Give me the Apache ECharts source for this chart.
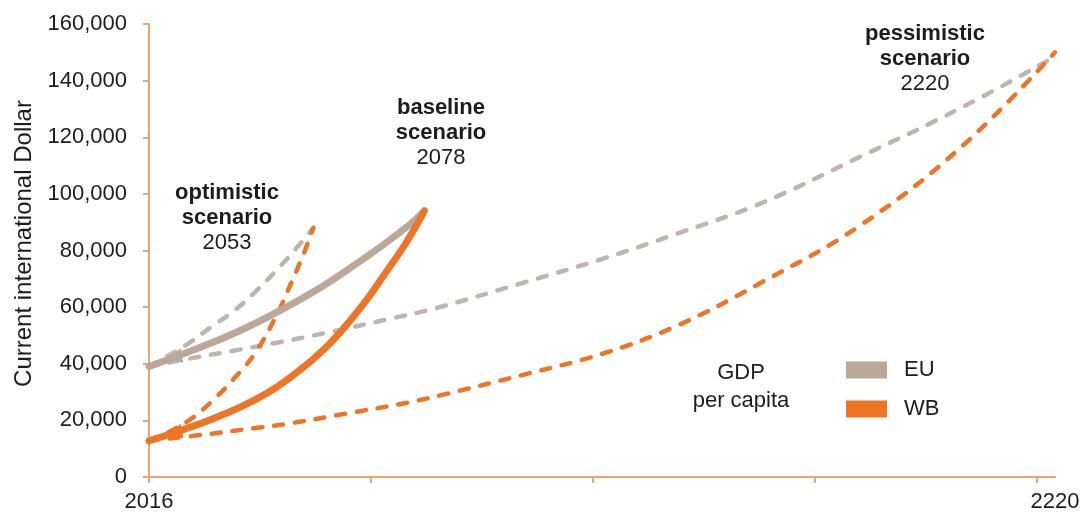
<!DOCTYPE html>
<html>
<head>
<meta charset="utf-8">
<script src="https://cdn.jsdelivr.net/npm/echarts@6/dist/echarts.min.js"></script>
<style>
html,body{margin:0;padding:0;background:#fff;}
#chart{width:1083px;height:513px;}
</style>
</head>
<body>
<div id="chart"></div>
<script>
// ---- data ----
var euBaselineYears = [2016, 2022, 2030, 2038, 2046, 2054, 2061, 2069, 2075, 2078];
var euBaseline      = [39000, 42500, 47300, 52800, 59200, 66300, 73500, 82300, 89600, 94000];

var wbBaselineYears = [2016, 2022, 2030, 2037, 2044, 2050, 2055, 2059, 2064, 2069, 2074, 2078];
var wbBaseline      = [12800, 15800, 20300, 25000, 31000, 37800, 44500, 51000, 60500, 71500, 83000, 94000];

var euOptimisticYears = [2016, 2020, 2025, 2030, 2035, 2040, 2045, 2049, 2053];
var euOptimistic      = [39000, 42500, 47300, 53000, 58500, 65500, 73500, 80500, 88000];

var wbOptimisticYears = [2016, 2020, 2025, 2030, 2035, 2040, 2045, 2048, 2051, 2053];
var wbOptimistic      = [12800, 15500, 20000, 26500, 34500, 44000, 58000, 68500, 79500, 88000];

var euPessimisticYears = [2016, 2025, 2035, 2045, 2057, 2070, 2081, 2100, 2118, 2135, 2154, 2176, 2199, 2220];
var euPessimistic      = [39000, 41800, 44600, 47500, 51300, 55800, 59800, 68500, 77000, 86000, 96800, 113000, 130500, 148500];

var wbPessimisticYears = [2016, 2028, 2040, 2048, 2060, 2074, 2082, 2100, 2118, 2135, 2154, 2176, 2199, 2220];
var wbPessimistic      = [12800, 14900, 17300, 19000, 22300, 26200, 29000, 36000, 43500, 53500, 68800, 88700, 116700, 150000];

var xTickValues  = [2016, 2066, 2116, 2166, 2216];
var xLabelValues = [2016, 2220];
var legendNames  = ['EU', 'WB'];
var arrowYear = 2022;

// ---- styling ----
var EU_SOLID = '#BCA898';
var EU_DASH  = '#BDB5B0';
var WB = '#EE7426';
var AXIS = '#E6A47B';
var TXT = '#1c1c1c';
var FONT = 'Liberation Sans, Arial, sans-serif';

function pairs(xs, ys, withArrow) {
  return xs.map(function (x, i) {
    if (withArrow && x === arrowYear) {
      return { value: [x, ys[i]], symbol: 'triangle', symbolSize: [15, 13], symbolRotate: 100 };
    }
    return { value: [x, ys[i]], symbolSize: 0 };
  });
}

function dashed(name, color, xs, ys, z) {
  return {
    type: 'line', name: name, smooth: 0.4, symbol: 'none',
    z: z, data: pairs(xs, ys, false),
    lineStyle: { color: color, width: 4.5, type: [9, 12], cap: 'round' },
    itemStyle: { color: color }
  };
}
function solid(name, color, xs, ys, z) {
  return {
    type: 'line', name: name, smooth: 0.4, symbol: 'circle', symbolSize: 0, showSymbol: true,
    z: z, data: pairs(xs, ys, true),
    lineStyle: { color: color, width: 7, cap: 'round' },
    itemStyle: { color: color, borderWidth: 0 }
  };
}

var chart = echarts.init(document.getElementById('chart'), null, { renderer: 'canvas' });
chart.setOption({
  animation: false,
  backgroundColor: '#ffffff',
  tooltip: { show: false },
  grid: { left: 149, right: 28, top: 24, bottom: 36, containLabel: false },
  xAxis: {
    type: 'value', min: 2016, max: 2220, interval: 50,
    axisLine: { show: true, lineStyle: { color: AXIS, width: 2 } },
    axisTick: { show: true, length: 6, customValues: xTickValues, lineStyle: { color: AXIS, width: 2 } },
    axisLabel: { customValues: xLabelValues, margin: 14, fontSize: 22, color: TXT, fontFamily: FONT,
      formatter: function (v) { return String(v); } },
    splitLine: { show: false }
  },
  yAxis: {
    type: 'value', min: 0, max: 160000, interval: 20000,
    name: 'Current international Dollar', nameLocation: 'middle', nameGap: 108, nameRotate: 90,
    nameTextStyle: { fontSize: 24, color: TXT, fontFamily: FONT, padding: [0, 0, 0, 14] },
    axisLine: { show: true, lineStyle: { color: AXIS, width: 2 } },
    axisTick: { show: true, length: 6, lineStyle: { color: AXIS, width: 2 } },
    axisLabel: { margin: 22, fontSize: 22, color: TXT, fontFamily: FONT,
      formatter: function (v) { return v.toLocaleString('en-US'); } },
    splitLine: { show: false }
  },
  legend: {
    orient: 'vertical', left: 841, top: 354, itemWidth: 41, itemHeight: 17, itemGap: 17,
    icon: 'rect', selectedMode: false,
    data: [
      { name: legendNames[0], icon: 'rect', itemStyle: { color: EU_SOLID, borderWidth: 0 } },
      { name: legendNames[1], icon: 'rect', itemStyle: { color: WB, borderWidth: 0 } }
    ],
    textStyle: { fontSize: 22, color: TXT, fontFamily: FONT, padding: [0, 0, 0, 12] }
  },
  graphic: [
    { type: 'text', x: 227, y: 218, style: { text: '{b|optimistic}\n{b|scenario}\n{n|2053}', align: 'center', verticalAlign: 'middle',
      rich: { b: { fontSize: 22, fontWeight: 'bold', fontFamily: FONT, fill: TXT, lineHeight: 25 }, n: { fontSize: 22, fontFamily: FONT, fill: TXT, lineHeight: 25 } } } },
    { type: 'text', x: 441, y: 133, style: { text: '{b|baseline}\n{b|scenario}\n{n|2078}', align: 'center', verticalAlign: 'middle',
      rich: { b: { fontSize: 22, fontWeight: 'bold', fontFamily: FONT, fill: TXT, lineHeight: 25 }, n: { fontSize: 22, fontFamily: FONT, fill: TXT, lineHeight: 25 } } } },
    { type: 'text', x: 925, y: 59, style: { text: '{b|pessimistic}\n{b|scenario}\n{n|2220}', align: 'center', verticalAlign: 'middle',
      rich: { b: { fontSize: 22, fontWeight: 'bold', fontFamily: FONT, fill: TXT, lineHeight: 25 }, n: { fontSize: 22, fontFamily: FONT, fill: TXT, lineHeight: 25 } } } },
    { type: 'text', x: 741, y: 387, style: { text: 'GDP\nper capita', align: 'center', verticalAlign: 'middle',
      fontSize: 22, fontFamily: FONT, fill: TXT, lineHeight: 28 } }
  ],
  series: [
    dashed('EU', EU_DASH, euPessimisticYears, euPessimistic, 2),
    dashed('EU', EU_DASH, euOptimisticYears, euOptimistic, 2),
    dashed('WB', WB, wbPessimisticYears, wbPessimistic, 3),
    dashed('WB', WB, wbOptimisticYears, wbOptimistic, 3),
    solid('EU', EU_SOLID, euBaselineYears, euBaseline, 4),
    solid('WB', WB, wbBaselineYears, wbBaseline, 5)
  ]
});
</script>
</body>
</html>
